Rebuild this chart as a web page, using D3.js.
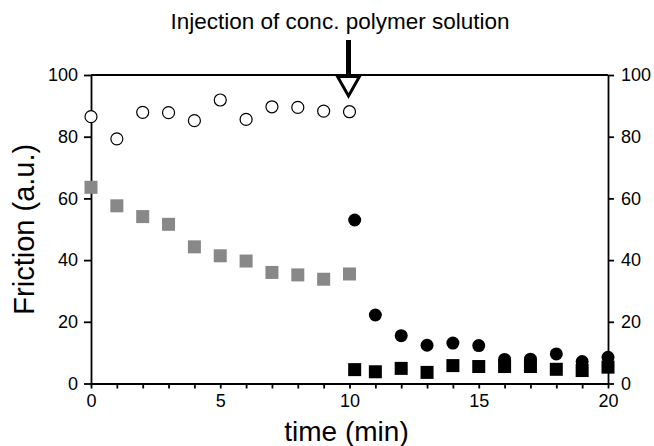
<!DOCTYPE html>
<html lang="en">
<head>
    <meta charset="UTF-8">
    <title>Friction vs time</title>
    <script src="https://d3js.org/d3.v7.min.js"></script>
    <style>
        body { margin: 0; background: #fff; }
        text { font-family: "Liberation Sans", Arial, Helvetica, sans-serif; fill: #000; }
        .axis path, .axis line { stroke: #000; stroke-width: 1.8; }
        .axis text { font-size: 18px; }
    </style>
</head>
<body>
<svg width="654" height="446"></svg>
<script>
// data
const timeBefore = [0, 1, 2, 3, 4, 5, 6, 7, 8, 9, 10];
const openCircles = [86.5, 79.3, 87.9, 87.8, 85.2, 91.9, 85.6, 89.7, 89.5, 88.3, 88.1];
const graySquares = [63.6, 57.6, 54.1, 51.6, 44.3, 41.4, 39.7, 36.0, 35.2, 33.8, 35.5];

const timeAfter = [10.2, 11, 12, 13, 14, 15, 16, 17, 18, 19, 20];
const blackCircles = [53.0, 22.2, 15.5, 12.4, 13.1, 12.3, 7.8, 7.9, 9.6, 7.1, 8.5];
const blackSquares = [4.5, 3.8, 4.9, 3.6, 5.8, 5.5, 5.5, 5.5, 4.6, 4.2, 5.3];

const xTicks = d3.range(0, 21, 1);
const yTicks = [0, 20, 40, 60, 80, 100];
const injectionTime = 10;

const margin = {top: 75, right: 46, bottom: 62.5, left: 91};
const W = 654, H = 446;
const width = W - margin.left - margin.right;
const height = H - margin.top - margin.bottom;

const svg = d3.select("svg");
const g = svg.append("g").attr("transform", `translate(${margin.left},${margin.top})`);

const x = d3.scaleLinear().domain([0, 20]).range([0, width]);
const y = d3.scaleLinear().domain([0, 100]).range([height, 0]);

// axes
g.append("g").attr("class", "axis")
    .attr("transform", `translate(0,${height})`)
    .call(d3.axisBottom(x).tickValues(xTicks).tickSize(5).tickSizeOuter(0).tickPadding(6)
        .tickFormat(d => d % 5 === 0 ? d : ""));

g.append("g").attr("class", "axis")
    .call(d3.axisLeft(y).tickValues(yTicks).tickSize(7).tickSizeOuter(0).tickPadding(6));

g.append("g").attr("class", "axis")
    .attr("transform", `translate(${width},0)`)
    .call(d3.axisRight(y).tickValues(yTicks).tickSize(6).tickSizeOuter(0).tickPadding(7));

// top frame line
g.append("line")
    .attr("x1", 0).attr("x2", width)
    .attr("y1", 0).attr("y2", 0)
    .attr("stroke", "#000").attr("stroke-width", 1.8);

// axis titles
svg.append("text")
    .attr("x", margin.left + width / 2 - 3)
    .attr("y", 441)
    .attr("text-anchor", "middle")
    .style("font-size", "28px")
    .text("time (min)");

svg.append("text")
    .attr("transform", `translate(34,${margin.top + height / 2}) rotate(-90)`)
    .attr("text-anchor", "middle")
    .style("font-size", "29px")
    .text("Friction (a.u.)");

// injection annotation
svg.append("text")
    .attr("x", 340)
    .attr("y", 29)
    .attr("text-anchor", "middle")
    .style("font-size", "22.5px")
    .text("Injection of conc. polymer solution");

const ax = margin.left + x(injectionTime) - 1;
svg.append("line")
    .attr("x1", ax).attr("x2", ax)
    .attr("y1", 40).attr("y2", 76)
    .attr("stroke", "#000").attr("stroke-width", 5);
svg.append("path")
    .attr("d", `M${ax - 11},${margin.top + 1.5} L${ax + 11},${margin.top + 1.5} L${ax},${margin.top + 21} Z`)
    .attr("fill", "#fff").attr("stroke", "#000").attr("stroke-width", 3)
    .attr("stroke-linejoin", "miter");

// markers
const sq = 13;
const before = timeBefore.map((t, i) => ({t, o: openCircles[i], s: graySquares[i]}));
const after = timeAfter.map((t, i) => ({t, c: blackCircles[i], s: blackSquares[i]}));

g.selectAll(".open").data(before).enter().append("circle")
    .attr("cx", d => x(d.t)).attr("cy", d => y(d.o)).attr("r", 6)
    .attr("fill", "#fff").attr("stroke", "#000").attr("stroke-width", 1.2);

g.selectAll(".gray").data(before).enter().append("rect")
    .attr("x", d => x(d.t) - sq / 2).attr("y", d => y(d.s) - sq / 2)
    .attr("width", sq).attr("height", sq)
    .attr("fill", "#888");

g.selectAll(".bcirc").data(after).enter().append("circle")
    .attr("cx", d => x(d.t)).attr("cy", d => y(d.c)).attr("r", 6.5)
    .attr("fill", "#000");

g.selectAll(".bsq").data(after).enter().append("rect")
    .attr("x", d => x(d.t) - sq / 2).attr("y", d => y(d.s) - sq / 2)
    .attr("width", sq).attr("height", sq)
    .attr("fill", "#000");
</script>
</body>
</html>
